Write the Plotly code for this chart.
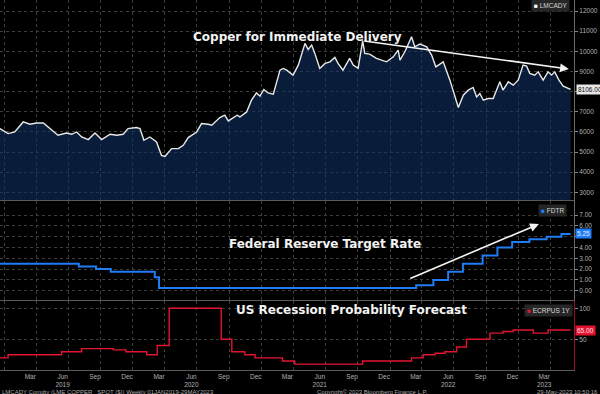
import plotly.graph_objects as go

# ---------------- data ----------------
copper_dates = [
    "2018-12-19", "2019-01-11", "2019-01-30", "2019-02-23", "2019-03-14", "2019-04-02",
    "2019-04-21", "2019-05-10", "2019-06-02", "2019-06-26", "2019-07-11", "2019-07-25",
    "2019-08-08", "2019-08-27", "2019-09-15", "2019-10-04", "2019-10-28", "2019-11-16",
    "2019-12-04", "2019-12-18", "2020-01-11", "2020-01-21", "2020-02-01", "2020-02-18",
    "2020-03-08", "2020-03-22", "2020-04-01", "2020-04-20", "2020-05-09", "2020-05-23",
    "2020-06-06", "2020-06-30", "2020-07-14", "2020-08-02", "2020-08-12", "2020-09-04",
    "2020-09-18", "2020-09-28", "2020-10-12", "2020-10-23", "2020-10-31", "2020-11-19",
    "2020-12-03", "2020-12-17", "2020-12-27", "2021-01-07", "2021-01-19", "2021-02-03",
    "2021-02-22", "2021-03-03", "2021-03-13", "2021-03-31", "2021-04-15", "2021-05-04",
    "2021-05-13", "2021-05-23", "2021-06-01", "2021-06-15", "2021-06-30", "2021-07-14",
    "2021-07-28", "2021-08-06", "2021-08-20", "2021-09-08", "2021-09-18", "2021-10-02",
    "2021-10-15", "2021-10-21", "2021-11-04", "2021-11-23", "2021-12-22", "2022-01-10",
    "2022-01-24", "2022-01-29", "2022-02-12", "2022-03-03", "2022-03-12", "2022-03-27",
    "2022-04-15", "2022-04-29", "2022-05-11", "2022-06-01", "2022-06-20", "2022-07-14",
    "2022-07-28", "2022-08-11", "2022-08-25", "2022-09-04", "2022-09-13", "2022-09-23",
    "2022-10-07", "2022-10-21", "2022-11-09", "2022-11-18", "2022-12-03", "2022-12-17",
    "2022-12-31", "2023-01-14", "2023-01-24", "2023-02-02", "2023-02-16", "2023-02-26",
    "2023-03-12", "2023-03-26", "2023-04-05", "2023-04-14", "2023-04-26", "2023-05-08",
    "2023-05-29",
]
copper_values = [
    6164, 5915, 5995, 6493, 6378, 6443,
    6443, 6164, 5831, 5945, 5881, 5995,
    5746, 5617, 5945, 5617, 5881, 5831,
    5881, 6164, 6214, 6164, 5582, 5746,
    5498, 4836, 4786, 5169, 5169, 5334,
    5717, 5995, 6413, 6378, 6329, 6712,
    6826, 6542, 6712, 6826, 6741, 6990,
    7572, 7935, 7771, 8105, 7935, 7871,
    9065, 9149, 9065, 8816, 9314, 10393,
    10095, 10308, 9896, 9149, 9398, 9478,
    9697, 9398, 9065, 9647, 9314, 9149,
    10522, 9896, 9861, 9647, 9478, 9727,
    10060, 9562, 9975, 10721, 10224, 10358,
    10224, 9811, 9229, 9478, 8567, 7209,
    7821, 8070, 8204, 7736, 7906, 7572,
    7657, 7657, 8483, 8070, 8483, 8318,
    8567, 9314, 9264, 8901, 8816, 8980,
    8567, 8980, 8816, 8980, 8567, 8269,
    8106,
]

fdtr_dates = [
    "2018-12-19", "2019-07-31", "2019-09-18", "2019-10-30", "2020-03-03", "2020-03-15",
    "2022-03-16", "2022-05-04", "2022-06-15", "2022-07-27", "2022-09-21", "2022-11-02",
    "2022-12-14", "2023-02-01", "2023-03-22", "2023-05-03", "2023-05-29",
]
fdtr_values = [
    2.50, 2.25, 2.00, 1.75, 1.25, 0.25,
    0.50, 1.00, 1.75, 2.50, 3.25, 4.00,
    4.50, 4.75, 5.00, 5.25, 5.25,
]

rec_dates = [
    "2018-12-19", "2019-01-11", "2019-06-12", "2019-08-08", "2019-11-06", "2019-12-12",
    "2020-02-09", "2020-03-10", "2020-04-13", "2020-09-08", "2020-10-08", "2020-11-14",
    "2020-12-13", "2021-03-01", "2021-04-05", "2021-10-15", "2022-03-03", "2022-04-05",
    "2022-05-09", "2022-06-06", "2022-07-09", "2022-08-06", "2022-10-12", "2022-11-18",
    "2022-12-17", "2023-02-12", "2023-03-26", "2023-05-29",
]
rec_values = [
    20, 25, 30, 35, 33, 30,
    25, 40, 100, 50, 30, 25,
    20, 15, 10, 15, 20, 25,
    27.5, 30, 37.5, 50, 60, 62.5,
    65, 60, 65, 65,
]

month_label_dates = [
    "2019-03-15", "2019-06-15", "2019-09-15", "2019-12-15",
    "2020-03-15", "2020-06-15", "2020-09-15", "2020-12-15",
    "2021-03-15", "2021-06-15", "2021-09-15", "2021-12-15",
    "2022-03-15", "2022-06-15", "2022-09-15", "2022-12-15",
    "2023-03-15",
]
month_label_text = [
    "Mar", "Jun<br>2019", "Sep", "Dec",
    "Mar", "Jun<br>2020", "Sep", "Dec",
    "Mar", "Jun<br>2021", "Sep", "Dec",
    "Mar", "Jun<br>2022", "Sep", "Dec",
    "Mar<br>2023",
]
quarter_dates = [
    "2019-01-01", "2019-04-01", "2019-07-01", "2019-10-01",
    "2020-01-01", "2020-04-01", "2020-07-01", "2020-10-01",
    "2021-01-01", "2021-04-01", "2021-07-01", "2021-10-01",
    "2022-01-01", "2022-04-01", "2022-07-01", "2022-10-01",
    "2023-01-01", "2023-04-01",
]
year_dates = ["2019-01-01", "2020-01-01", "2021-01-01", "2022-01-01", "2023-01-01"]

copper_ticks = [3000, 4000, 5000, 6000, 7000, 8000, 9000, 10000, 11000, 12000]
copper_tick_text = ["3000", "4000", "5000", "6000", "7000", "", "9000", "10000", "11000", "12000"]
fdtr_ticks = [0, 1, 2, 3, 4, 5, 6, 7]
fdtr_tick_text = ["0.00", "1.00", "2.00", "3.00", "4.00", "", "6.00", "7.00"]
rec_ticks = [50, 100]
rec_tick_text = ["50", "100"]

# ---------------- styling ----------------
X_RANGE = ["2018-12-19", "2023-06-07 18:00"]
GRID = "#3d3d3d"
SMALLFAM = "Liberation Sans"
TICKFONT = dict(family=SMALLFAM, size=6.5, color="#b0b0b0")
COPPER_C = "#e8e8e8"
FDTR_C = "#1f7cf4"
REC_C = "#e3142f"

fig = go.Figure()
fig.add_trace(go.Scatter(
    x=copper_dates, y=copper_values, xaxis="x", yaxis="y", mode="lines",
    line=dict(color=COPPER_C, width=1.4), fill="tozeroy",
    fillcolor="rgba(16,52,105,0.55)", hoverinfo="skip", showlegend=False))
fig.add_trace(go.Scatter(
    x=fdtr_dates, y=fdtr_values, xaxis="x2", yaxis="y2", mode="lines",
    line=dict(color=FDTR_C, width=2, shape="hv"), hoverinfo="skip", showlegend=False))
fig.add_trace(go.Scatter(
    x=rec_dates, y=rec_values, xaxis="x3", yaxis="y3", mode="lines",
    line=dict(color=REC_C, width=1.4, shape="hv"), hoverinfo="skip", showlegend=False))

grid_x = dict(type="date", range=X_RANGE, tickmode="array", tickvals=quarter_dates,
              showticklabels=False, ticks="", showgrid=True, gridcolor=GRID,
              griddash="dot", gridwidth=1, showline=True, linecolor="#5a5a5a",
              linewidth=1, zeroline=False, automargin=False)

def yax(domain, rng, tickvals, ticktext, linecolor):
    return dict(domain=domain, range=rng, side="right", tickmode="array",
                tickvals=tickvals, ticktext=ticktext, ticks="outside", ticklen=3,
                tickcolor="#888", tickfont=TICKFONT, showgrid=True, gridcolor=GRID,
                griddash="dot", showline=True, linecolor=linecolor, linewidth=1,
                zeroline=False, automargin=False)

fig.update_layout(
    width=600, height=394,
    margin=dict(l=0, r=26, t=0, b=24, autoexpand=False),
    paper_bgcolor="#000000", plot_bgcolor="#000000",
    showlegend=False,
    xaxis=dict(grid_x, anchor="y"),
    xaxis2=dict(grid_x, anchor="y2", matches="x"),
    xaxis3=dict(type="date", range=X_RANGE, anchor="y3", matches="x",
                tickmode="array", tickvals=month_label_dates, ticktext=month_label_text,
                ticks="", showgrid=False, tickfont=dict(family=SMALLFAM, size=6.5, color="#b0b0b0"),
                minor=dict(tickmode="array", tickvals=quarter_dates, showgrid=True,
                           gridcolor=GRID, griddash="dot", ticks=""),
                showline=True, linecolor="#5a5a5a", linewidth=1, zeroline=False,
                automargin=False),
    xaxis4=dict(type="date", range=X_RANGE, anchor="y3", overlaying="x3", matches="x",
                tickmode="array", tickvals=year_dates, ticks="outside", ticklen=13,
                tickcolor="#6a6a6a", tickwidth=1, showticklabels=False, showgrid=False,
                minor=dict(dtick="M1", tick0="2019-01-01", ticks="outside", ticklen=3,
                           tickcolor="#6a6a6a", showgrid=False),
                showline=False, zeroline=False, automargin=False),
    yaxis=yax([170 / 370, 1.0], [2618, 12546], copper_ticks, copper_tick_text, "#6a6a6a"),
    yaxis2=yax([70 / 370, 169 / 370], [-0.86, 8.3], fdtr_ticks, fdtr_tick_text, "#6a6a6a"),
    yaxis3=yax([0.0, 69 / 370], [0.5, 111.8], rec_ticks, rec_tick_text, "#a0102a"),
)

TITLE_FONT = dict(family="DejaVu Sans", size=12, color="#f2f2f2")
SMALL = dict(family=SMALLFAM, size=6, color="#a8a8a8")
LEG = dict(family=SMALLFAM, size=6.5, color="#d8d8d8")
TAG = dict(family=SMALLFAM, size=6.5)

ann = [
    # panel titles
    dict(text="<b>Copper for Immediate Delivery</b>", xref="paper", yref="paper",
         x=0.519, y=0.924, showarrow=False, font=TITLE_FONT),
    dict(text="<b>Federal Reserve Target Rate</b>", xref="paper", yref="paper",
         x=0.566, y=0.3405, showarrow=False, font=TITLE_FONT),
    dict(text="<b>US Recession Probability Forecast</b>", xref="paper", yref="paper",
         x=0.6115, y=0.1378, showarrow=False, font=TITLE_FONT),
    # legend boxes
    dict(text='<span style="color:#ffffff">■</span> LMCADY', xref="paper", yref="paper",
         x=0.993, y=0.984, xanchor="right", yanchor="middle", showarrow=False,
         bgcolor="#262626", borderpad=2, font=LEG),
    dict(text='<span style="color:#1f7cf4">■</span> FDTR', xref="paper", yref="paper",
         x=0.988, y=0.4324, xanchor="right", yanchor="middle", showarrow=False,
         bgcolor="#262626", borderpad=2, font=LEG),
    dict(text='<span style="color:#e3142f">■</span> ECRPUS 1Y', xref="paper", yref="paper",
         x=0.998, y=0.162, xanchor="right", yanchor="middle", showarrow=False,
         bgcolor="#262626", borderpad=2, font=LEG),
    # last value tags
    dict(text=f"{copper_values[-1]:.2f}", xref="paper", yref="y", x=1.0, y=copper_values[-1],
         xanchor="left", xshift=2, showarrow=False, bgcolor="#e6e6e6", borderpad=1,
         font=dict(TAG, color="#111111")),
    dict(text=f"{fdtr_values[-1]:.2f}", xref="paper", yref="y2", x=1.0, y=fdtr_values[-1],
         xanchor="left", xshift=1, showarrow=False, bgcolor=FDTR_C, borderpad=1,
         font=dict(TAG, color="#e8f0ff")),
    dict(text=f"{rec_values[-1]:.2f}", xref="paper", yref="y3", x=1.0, y=rec_values[-1],
         xanchor="left", xshift=1, showarrow=False, bgcolor=REC_C, borderpad=1,
         font=dict(TAG, color="#ffe0e4")),
    # trend arrows
    dict(text="", xref="x", yref="y", axref="x", ayref="y",
         x="2023-05-24", y=9121, ax="2021-10-15", ay=10522,
         showarrow=True, arrowhead=2, arrowsize=1.1, arrowwidth=1.6, arrowcolor="#f5f5f5"),
    dict(text="", xref="x2", yref="y2", axref="x2", ayref="y2",
         x="2023-02-28", y=6.17, ax="2022-02-23", ay=1.08,
         showarrow=True, arrowhead=2, arrowsize=1.1, arrowwidth=1.6, arrowcolor="#f5f5f5"),
    # footer
    dict(text="LMCADY Comdty (LME COPPER   SPOT ($)) Weekly 01JAN2019-29MAY2023",
         xref="paper", yref="paper", x=0.0, y=-0.059, xanchor="left", yanchor="middle",
         showarrow=False, font=SMALL),
    dict(text="Copyright© 2023 Bloomberg Finance L.P.", xref="paper", yref="paper",
         x=315 / 574, y=-0.059, xanchor="left", yanchor="middle", showarrow=False, font=SMALL),
    dict(text="29-May-2023 10:50:16", xref="paper", yref="paper",
         x=600 / 574, y=-0.059, xanchor="right", yanchor="middle", showarrow=False, font=SMALL),
]
fig.update_layout(annotations=ann)

fig.write_html(
    "out.html",
    config={"displayModeBar": False},
    post_script="document.body.style.margin='0px';document.body.style.background='#000';",
)
